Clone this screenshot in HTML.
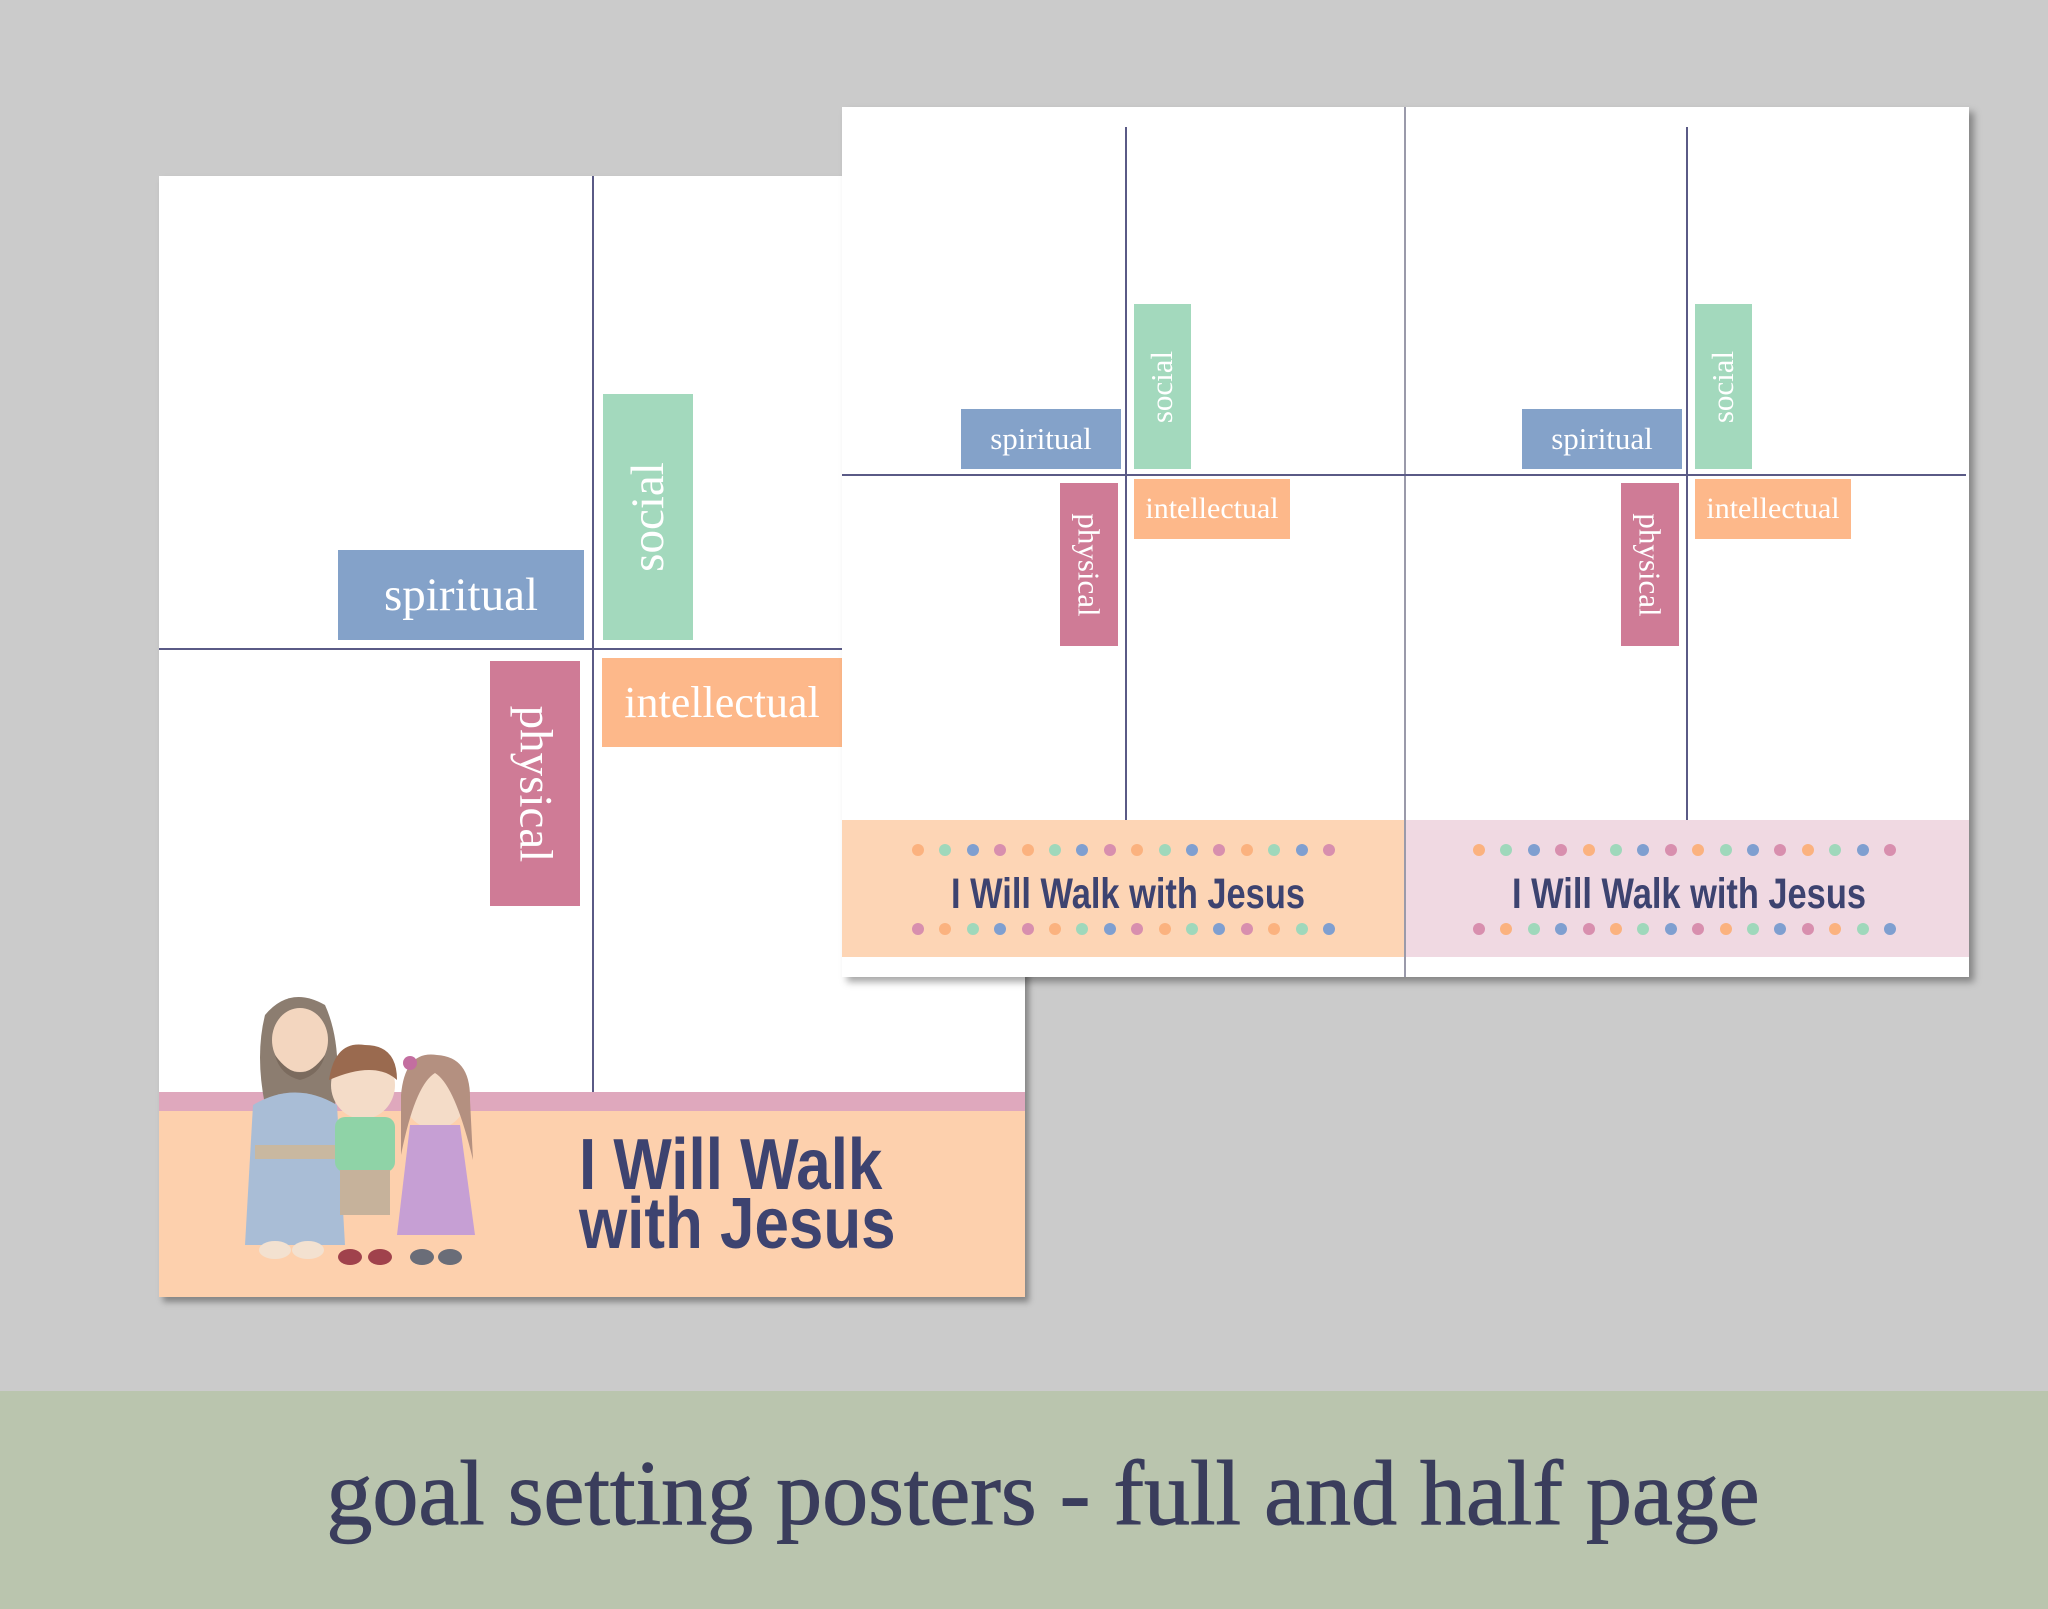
<!DOCTYPE html>
<html><head><meta charset="utf-8">
<style>
*{margin:0;padding:0;box-sizing:border-box}
body{width:2048px;height:1609px;background:#cbcbcb;position:relative;overflow:hidden;font-family:"Liberation Serif",serif}
.a{position:absolute}
.lbl{position:absolute;color:#fff;display:flex;align-items:center;justify-content:center;font-family:"Liberation Serif",serif;white-space:nowrap}
.rotU span{transform:rotate(-90deg);display:block}
.rotD span{transform:rotate(90deg);display:block}
.vl{position:absolute;width:2px;background:#5a5a86}
.hl{position:absolute;height:2px;background:#5a5a86}
.title{position:absolute;font-family:"Liberation Sans",sans-serif;font-weight:bold;color:#3d4370;white-space:nowrap;transform-origin:left top}
.dot{position:absolute;width:12px;height:12px;border-radius:50%}
</style></head><body>

<div class="a" style="left:159px;top:176px;width:866px;height:1121px;background:#fff;box-shadow:4px 5px 6px rgba(0,0,0,.35)"></div>
<div class="vl" style="left:592px;top:176px;height:916px"></div>
<div class="hl" style="left:159px;top:648px;width:700px"></div>
<div class="lbl" style="left:338px;top:550px;width:246px;height:90px;background:#84a2c9;font-size:47px">spiritual</div>
<div class="lbl rotU" style="left:603px;top:394px;width:90px;height:246px;background:#a3d9bd;font-size:47px"><span>social</span></div>
<div class="lbl rotD" style="left:490px;top:661px;width:90px;height:245px;background:#cf7b96;font-size:47px"><span>physical</span></div>
<div class="lbl" style="left:602px;top:658px;width:240px;height:89px;background:#fdb88a;font-size:44px">intellectual</div>
<div class="a" style="left:159px;top:1092px;width:866px;height:19px;background:#dfa8bd"></div>
<div class="a" style="left:159px;top:1111px;width:866px;height:186px;background:#fdd0ad"></div>
<div class="title" style="left:579px;top:1136px;font-size:72px;line-height:59px;transform:scaleX(0.86)">I Will Walk<br>with Jesus</div>

<svg class="a" style="left:225px;top:985px" width="270" height="290" viewBox="0 0 270 290">
 <path d="M40 30 Q65 0 100 20 Q118 60 110 120 L40 120 Q30 70 40 30Z" fill="#8c7d70"/>
 <path d="M28 120 Q70 95 112 120 L120 260 L20 260Z" fill="#a9bdd6"/>
 <rect x="30" y="160" width="85" height="14" fill="#c9b8a0"/>
 <ellipse cx="75" cy="55" rx="28" ry="32" fill="#f3d6bf"/>
 <path d="M50 70 Q75 105 100 70 Q95 90 75 95 Q55 90 50 70Z" fill="#7b6b5e"/>
 <ellipse cx="50" cy="265" rx="16" ry="9" fill="#f3e1d0"/>
 <ellipse cx="83" cy="265" rx="16" ry="9" fill="#f3e1d0"/>
 <ellipse cx="138" cy="100" rx="32" ry="34" fill="#f4dcc8"/>
 <path d="M104 95 Q110 55 140 60 Q172 60 172 95 Q150 75 104 95Z" fill="#9a6a4f"/>
 <rect x="110" y="132" width="60" height="55" rx="10" fill="#8fd3a7"/>
 <rect x="115" y="185" width="50" height="45" fill="#c6b29b"/>
 <ellipse cx="125" cy="272" rx="12" ry="8" fill="#a0424c"/>
 <ellipse cx="155" cy="272" rx="12" ry="8" fill="#a0424c"/>
 <ellipse cx="210" cy="110" rx="32" ry="34" fill="#f4dcc8"/>
 <path d="M176 110 Q180 65 212 70 Q246 72 245 115 L248 175 Q230 100 210 88 Q190 100 176 170Z" fill="#b49080"/>
 <circle cx="185" cy="78" r="7" fill="#c36ea0"/>
 <path d="M185 140 L235 140 L250 250 L172 250Z" fill="#c69fd4"/>
 <ellipse cx="197" cy="272" rx="12" ry="8" fill="#6a6d78"/>
 <ellipse cx="225" cy="272" rx="12" ry="8" fill="#6a6d78"/>
</svg>

<div class="a" style="left:842px;top:107px;width:1127px;height:870px;background:#fff;box-shadow:5px 5px 7px rgba(0,0,0,.35)"></div>
<div class="vl" style="left:1404px;top:107px;height:870px;background:#9a9aaa"></div>
<div class="hl" style="left:842px;top:474px;width:1124px"></div>

<div class="vl" style="left:1125px;top:127px;height:693px"></div>
<div class="lbl" style="left:961px;top:409px;width:160px;height:60px;background:#84a2c9;font-size:31px">spiritual</div>
<div class="lbl rotU" style="left:1134px;top:304px;width:57px;height:165px;background:#a3d9bd;font-size:31px"><span>social</span></div>
<div class="lbl rotD" style="left:1060px;top:483px;width:58px;height:163px;background:#cf7b96;font-size:31px"><span>physical</span></div>
<div class="lbl" style="left:1134px;top:479px;width:156px;height:60px;background:#fdb88a;font-size:30px">intellectual</div>
<div class="a" style="left:842px;top:820px;width:562px;height:137px;background:#fdd5b5"></div>
<div class="title" style="left:951px;top:870px;font-size:43px;transform:scaleX(0.8)">I Will Walk with Jesus</div>

<div class="vl" style="left:1686px;top:127px;height:693px"></div>
<div class="lbl" style="left:1522px;top:409px;width:160px;height:60px;background:#84a2c9;font-size:31px">spiritual</div>
<div class="lbl rotU" style="left:1695px;top:304px;width:57px;height:165px;background:#a3d9bd;font-size:31px"><span>social</span></div>
<div class="lbl rotD" style="left:1621px;top:483px;width:58px;height:163px;background:#cf7b96;font-size:31px"><span>physical</span></div>
<div class="lbl" style="left:1695px;top:479px;width:156px;height:60px;background:#fdb88a;font-size:30px">intellectual</div>
<div class="a" style="left:1406px;top:820px;width:563px;height:137px;background:#f0d9e2"></div>
<div class="title" style="left:1512px;top:870px;font-size:43px;transform:scaleX(0.8)">I Will Walk with Jesus</div>

<div id="dots"></div>
<script>
var c=['#fbb27f','#9fd8bb','#7f9fd0','#d88fae'];var h='';
[912,1473].forEach(function(x0){
 for(var r=0;r<2;r++){var y=r?923:844;
  for(var i=0;i<16;i++){
   h+='<div class="dot" style="left:'+(x0+i*27.4)+'px;top:'+y+'px;background:'+c[(i+r*3)%4]+'"></div>';}}
});
document.getElementById('dots').innerHTML=h;
</script>

<div class="a" style="left:0;top:1391px;width:2048px;height:218px;background:#bac5ae"></div>
<div class="a" style="left:19px;top:1440px;width:2048px;text-align:center;font-size:92px;color:#3a3d5c;font-family:'Liberation Serif',serif;-webkit-text-stroke:1px #3a3d5c">goal setting posters - full and half page</div>
</body></html>
